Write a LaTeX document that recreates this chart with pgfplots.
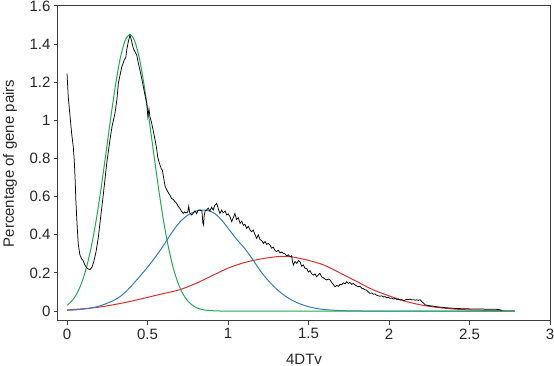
\documentclass[border=0pt]{standalone}
\usepackage{pgfplots}
\pgfplotsset{compat=1.18}
\usepackage{fontspec}
\setmainfont{Liberation Sans}
\definecolor{cgreen}{RGB}{30,170,85}
\definecolor{cblue}{RGB}{50,125,185}
\definecolor{cred}{RGB}{215,50,50}
\definecolor{caxis}{RGB}{60,60,60}
\begin{document}
\begin{tikzpicture}
\begin{axis}[
  at={(0pt,0pt)}, anchor=south west,
  scale only axis, width=492pt, height=315pt,
  xmin=-0.056, xmax=3, ymin=-0.052, ymax=1.6,
  xtick={0,0.5,1,1.5,2,2.5,3},
  ytick={0,0.2,0.4,0.6,0.8,1,1.2,1.4,1.6},
  tick align=outside, tick pos=left,
  major tick length=4pt,
  axis line style={caxis, line width=1pt},
  every tick/.style={caxis, line width=1pt},
  /pgf/number format/assume math mode=true,
  /pgf/number format/fixed,
  ticklabel style={font=\fontsize{15}{17}\selectfont, text=black!85},
  xlabel={4DTv},
  ylabel={Percentage of gene pairs},
  every axis x label/.style={at={(axis description cs:0.5,-0.1206)}, anchor=center, font=\fontsize{15}{17}\selectfont, text=black!85},
  every axis y label/.style={at={(axis description cs:-0.0976,0.5)}, rotate=90, anchor=center, font=\fontsize{15}{17}\selectfont, text=black!85},
  clip=false,
]
\addplot[cred, line width=1pt, smooth] coordinates {
(0,0.006)(0.1,0.012)(0.2,0.021)(0.3,0.035)(0.4,0.052)(0.5,0.072)(0.6,0.092)(0.7,0.112)(0.8,0.145)(0.9,0.185)(1.0,0.225)(1.1,0.254)(1.2,0.273)(1.3,0.285)(1.35,0.287)(1.4,0.284)(1.5,0.266)(1.6,0.24)(1.7,0.198)(1.8,0.155)(1.9,0.112)(2.0,0.08)(2.1,0.052)(2.2,0.032)(2.3,0.019)(2.4,0.011)(2.5,0.006)(2.6,0.004)(2.7,0.002)(2.78,0.001)
};
\addplot[cblue, line width=1pt, smooth] coordinates {
(0,0.004)(0.1,0.010)(0.2,0.026)(0.3,0.060)(0.35,0.090)(0.40,0.132)(0.45,0.180)(0.50,0.230)(0.55,0.285)(0.60,0.345)(0.65,0.41)(0.70,0.466)(0.75,0.503)(0.80,0.524)(0.84,0.53)(0.88,0.526)(0.92,0.51)(0.96,0.478)(1.00,0.435)(1.05,0.38)(1.10,0.332)(1.15,0.275)(1.20,0.212)(1.25,0.16)(1.30,0.117)(1.35,0.082)(1.40,0.056)(1.45,0.037)(1.50,0.023)(1.55,0.014)(1.60,0.008)(1.70,0.0025)(1.80,0.0007)(1.90,0.0001)(2.0,0)(2.78,0)
};
\addplot[cgreen, line width=1pt, smooth] coordinates {
(0,0.030)(0.03,0.053)(0.06,0.090)(0.09,0.146)(0.12,0.226)(0.15,0.334)(0.18,0.471)(0.21,0.635)(0.24,0.817)(0.27,1.004)(0.30,1.179)(0.33,1.323)(0.36,1.417)(0.39,1.45)(0.42,1.417)(0.45,1.323)(0.48,1.179)(0.51,1.004)(0.54,0.817)(0.57,0.635)(0.60,0.471)(0.63,0.334)(0.66,0.226)(0.69,0.146)(0.72,0.090)(0.75,0.053)(0.78,0.030)(0.81,0.016)(0.84,0.008)(0.87,0.004)(0.90,0.002)(0.95,0.0005)(1.0,0.0001)(1.5,0)(2.0,0)(2.78,0)
};
\addplot[black, line width=0.75pt] coordinates {
(0.000,1.245)(0.008,1.12)(0.019,1.02)(0.029,0.93)(0.039,0.86)(0.045,0.79)(0.050,0.70)(0.055,0.58)(0.062,0.46)(0.070,0.35)(0.080,0.295)(0.090,0.275)(0.100,0.265)(0.112,0.24)(0.128,0.222)(0.143,0.218)(0.155,0.23)(0.165,0.255)(0.180,0.31)(0.195,0.39)(0.210,0.50)(0.226,0.615)(0.246,0.77)(0.267,0.90)(0.280,0.97)(0.298,1.037)(0.310,1.11)(0.319,1.195)(0.330,1.24)(0.340,1.28)(0.356,1.317)(0.365,1.33)(0.371,1.37)(0.380,1.41)(0.391,1.448)(0.400,1.42)(0.412,1.378)(0.422,1.36)(0.433,1.343)(0.443,1.30)(0.453,1.264)(0.464,1.22)(0.474,1.177)(0.485,1.13)(0.495,1.09)(0.502,1.02)(0.509,1.06)(0.515,1.02)(0.526,0.985)(0.537,0.94)(0.547,0.897)(0.557,0.85)(0.563,0.81)(0.572,0.78)(0.580,0.76)(0.586,0.745)(0.592,0.74)(0.600,0.70)(0.609,0.655)(0.620,0.635)(0.630,0.62)(0.640,0.607)(0.650,0.59)(0.660,0.585)(0.670,0.575)(0.681,0.565)(0.690,0.55)(0.700,0.54)(0.710,0.525)(0.722,0.512)(0.730,0.52)(0.740,0.515)(0.750,0.52)(0.756,0.55)(0.762,0.515)(0.774,0.504)(0.785,0.515)(0.795,0.525)(0.805,0.51)(0.815,0.53)(0.826,0.53)(0.838,0.525)(0.844,0.46)(0.848,0.451)(0.852,0.5)(0.858,0.525)(0.867,0.53)(0.877,0.54)(0.888,0.525)(0.898,0.545)(0.908,0.53)(0.918,0.555)(0.930,0.565)(0.940,0.535)(0.950,0.512)(0.960,0.53)(0.970,0.515)(0.982,0.525)(0.992,0.504)(1.002,0.51)(1.012,0.495)(1.023,0.469)(1.033,0.49)(1.043,0.512)(1.053,0.48)(1.064,0.49)(1.075,0.46)(1.085,0.472)(1.095,0.45)(1.105,0.455)(1.116,0.434)(1.126,0.445)(1.137,0.425)(1.147,0.416)(1.157,0.425)(1.168,0.40)(1.178,0.381)(1.188,0.40)(1.199,0.375)(1.209,0.37)(1.220,0.355)(1.230,0.365)(1.240,0.35)(1.250,0.355)(1.261,0.346)(1.271,0.33)(1.281,0.335)(1.292,0.318)(1.302,0.311)(1.312,0.32)(1.323,0.305)(1.333,0.31)(1.343,0.303)(1.354,0.30)(1.364,0.29)(1.375,0.295)(1.385,0.285)(1.395,0.29)(1.400,0.262)(1.406,0.241)(1.416,0.26)(1.427,0.25)(1.437,0.265)(1.447,0.259)(1.458,0.235)(1.468,0.242)(1.478,0.225)(1.489,0.224)(1.499,0.205)(1.509,0.212)(1.520,0.195)(1.530,0.189)(1.540,0.195)(1.551,0.18)(1.561,0.19)(1.571,0.198)(1.581,0.18)(1.592,0.175)(1.602,0.168)(1.613,0.163)(1.623,0.168)(1.634,0.163)(1.644,0.15)(1.654,0.14)(1.665,0.127)(1.675,0.135)(1.685,0.13)(1.696,0.14)(1.706,0.138)(1.716,0.148)(1.727,0.143)(1.737,0.154)(1.747,0.145)(1.757,0.15)(1.768,0.14)(1.778,0.145)(1.788,0.138)(1.799,0.132)(1.809,0.128)(1.820,0.13)(1.830,0.12)(1.840,0.118)(1.851,0.112)(1.861,0.11)(1.871,0.1)(1.882,0.093)(1.892,0.095)(1.903,0.088)(1.913,0.09)(1.923,0.083)(1.934,0.08)(1.944,0.078)(1.955,0.08)(1.965,0.074)(1.975,0.076)(1.986,0.07)(1.996,0.072)(2.007,0.067)(2.017,0.068)(2.027,0.063)(2.038,0.066)(2.048,0.061)(2.058,0.063)(2.069,0.058)(2.079,0.06)(2.090,0.054)(2.100,0.058)(2.110,0.062)(2.121,0.06)(2.131,0.063)(2.141,0.059)(2.152,0.06)(2.162,0.057)(2.172,0.059)(2.183,0.056)(2.193,0.06)(2.203,0.05)(2.214,0.042)(2.224,0.033)(2.234,0.031)(2.245,0.029)(2.265,0.027)(2.286,0.024)(2.306,0.022)(2.327,0.02)(2.350,0.018)(2.380,0.016)(2.410,0.014)(2.440,0.013)(2.480,0.012)(2.520,0.011)(2.560,0.011)(2.600,0.01)(2.640,0.009)(2.670,0.009)(2.690,0.007)(2.700,0.003)
};
\end{axis}
\pgfresetboundingbox
\useasboundingbox (-58pt,-45pt) rectangle (496pt,321pt);
\end{tikzpicture}
\end{document}
